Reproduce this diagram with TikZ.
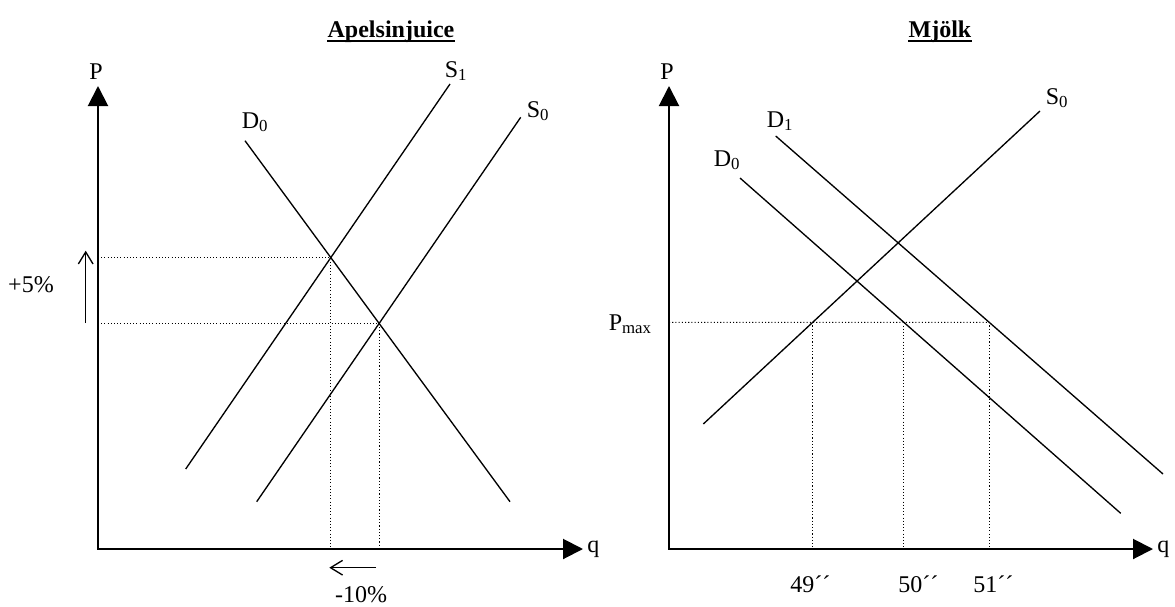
\documentclass[tikz,border=0pt]{standalone}
\usepackage{fontspec}
\setmainfont{Liberation Serif}
\usetikzlibrary{arrows.meta}
\begin{document}
\begin{tikzpicture}[x=0.75pt,y=-0.75pt,
  axis/.style={line width=1.5pt,{Triangle[length=15pt,width=15pt]}-{Triangle[length=15pt,width=15pt]}},
  curve/.style={line width=1pt},
  dotline/.style={line width=0.8pt,dash pattern=on 0.8pt off 1.6pt},
  shiftarrow/.style={line width=1pt,-{Straight Barb[length=9pt,width=11pt]}},
  lbl/.style={inner sep=0pt,font=\fontsize{18}{20}\selectfont},
  ttl/.style={inner sep=0pt,font=\fontsize{18}{20}\selectfont\bfseries},
  uline/.style={line width=1.1pt}]
\useasboundingbox (0,0) rectangle (1175,607);

% ---------- Left chart: Apelsinjuice ----------
\node[ttl,anchor=base] (t1) at (391,37) {Apelsinjuice};
\draw[uline] ([yshift=-3pt]t1.base west) -- ([yshift=-3pt]t1.base east);

\coordinate (LO) at (98,549);
\coordinate (LY) at (98,86);
\coordinate (LX) at (583,549);
\draw[axis] (LY) -- (LO) -- (LX);
\node[lbl,anchor=base] (lP) at (96,79) {P};
\node[lbl,anchor=mid west] (lq) at (587,549) {q};

\coordinate (LD0a) at (245,140.7);
\coordinate (LD0b) at (510,501.7);
\coordinate (LS1a) at (185.7,469);
\coordinate (LS1b) at (450,84);
\coordinate (LS0a) at (256.7,501.7);
\coordinate (LS0b) at (520.7,117.3);
\draw[curve] (LD0a) -- (LD0b);
\draw[curve] (LS1a) -- (LS1b);
\draw[curve] (LS0a) -- (LS0b);
\node[lbl,anchor=base] (lD0) at (255,128) {D\textsubscript{0}};
\node[lbl,anchor=base] (lS1) at (456,77) {S\textsubscript{1}};
\node[lbl,anchor=base] (lS0) at (538,117) {S\textsubscript{0}};

\coordinate (E1) at (intersection of LD0a--LD0b and LS1a--LS1b);
\coordinate (E0) at (intersection of LD0a--LD0b and LS0a--LS0b);
\draw[dotline] (E1 -| LO) -- (E1) -- (E1 |- LO);
\draw[dotline] (E0 -| LO) -- (E0) -- (E0 |- LO);

\coordinate (ua1) at (85.7,323);
\coordinate (ua2) at (85.7,250.7);
\draw[shiftarrow] (ua1) -- (ua2);
\node[lbl] (p5) at (31,285) {+5\%};

\coordinate (la1) at (376,567.7);
\coordinate (la2) at (329.3,567.7);
\draw[shiftarrow] (la1) -- (la2);
\node[lbl] (m10) at (361,595) {-10\%};

% ---------- Right chart: Mjolk ----------
\node[ttl,anchor=base] (t2) at (940,37) {Mjölk};
\draw[uline] ([yshift=-3pt]t2.base west) -- ([yshift=-3pt]t2.base east);

\coordinate (RO) at (669,549);
\coordinate (RY) at (669,86);
\coordinate (RX) at (1153,549);
\draw[axis] (RY) -- (RO) -- (RX);
\node[lbl,anchor=base] (rP) at (667,79) {P};
\node[lbl,anchor=mid west] (rq) at (1157,549) {q};

\coordinate (RS0a) at (703.3,424);
\coordinate (RS0b) at (1040,111);
\coordinate (RD1a) at (775.7,136);
\coordinate (RD1b) at (1163,474);
\coordinate (RD0a) at (740,178);
\coordinate (RD0b) at (1120.7,513.3);
\draw[curve] (RS0a) -- (RS0b);
\draw[curve] (RD1a) -- (RD1b);
\draw[curve] (RD0a) -- (RD0b);
\node[lbl,anchor=base] (rS0) at (1057,104) {S\textsubscript{0}};
\node[lbl,anchor=base] (rD1) at (780,127) {D\textsubscript{1}};
\node[lbl,anchor=base] (rD0) at (727,166) {D\textsubscript{0}};

\coordinate (PM) at (669,322.3);
\coordinate (PMr) at (1175,322.3);
\coordinate (F0) at (intersection of PM--PMr and RS0a--RS0b);
\coordinate (F1) at (intersection of PM--PMr and RD0a--RD0b);
\coordinate (F2) at (intersection of PM--PMr and RD1a--RD1b);
\draw[dotline] (PM) -- (F2);
\draw[dotline] (F0) -- (F0 |- RO);
\draw[dotline] (F1) -- (F1 |- RO);
\draw[dotline] (F2) -- (F2 |- RO);
\node[lbl,anchor=base east] (pmax) at (652,330) {P\textsubscript{max}};

\node[lbl,anchor=base west] (q49) at (790,592) {49´´};
\node[lbl,anchor=base west] (q50) at (898,592) {50´´};
\node[lbl,anchor=base west] (q51) at (973,592) {51´´};
\end{tikzpicture}
\end{document}
